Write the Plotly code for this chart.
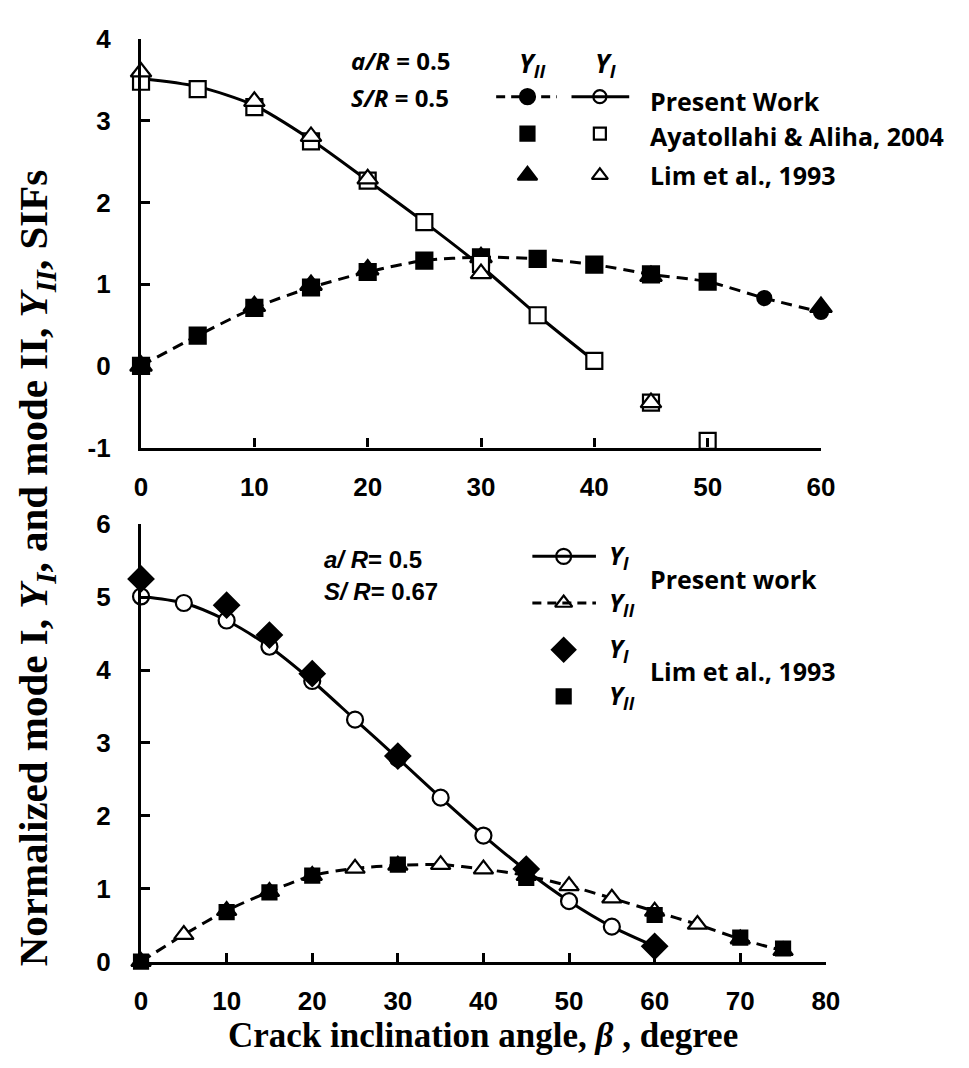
import plotly.graph_objects as go

# ---------------- data: top panel (a/R = 0.5, S/R = 0.5) ----------------
top_pw_yi_x = [0, 5, 10, 15, 20, 25, 30, 35, 40]
top_pw_yi = [3.52, 3.42, 3.19, 2.77, 2.27, 1.76, 1.22, 0.62, 0.06]
top_pw_yii_x = [0, 5, 10, 15, 20, 25, 30, 35, 40, 45, 50, 55, 60]
top_pw_yii = [0.0, 0.37, 0.71, 0.96, 1.15, 1.29, 1.33, 1.31, 1.24, 1.12, 1.03, 0.83, 0.66]
top_aa_x = [0, 5, 10, 15, 20, 25, 30, 35, 40, 45, 50]
top_aa_yi = [3.48, 3.39, 3.17, 2.75, 2.27, 1.76, 1.25, 0.62, 0.06, -0.45, -0.92]
top_aa_yii = [0.0, 0.37, 0.71, 0.96, 1.15, 1.29, 1.33, 1.31, 1.24, 1.12, 1.03]
top_lim_yi_x = [0, 10, 15, 20, 30, 45]
top_lim_yi = [3.60, 3.24, 2.81, 2.29, 1.13, -0.45]
top_lim_yii_x = [0, 10, 15, 20, 30, 45, 60]
top_lim_yii = [0.0, 0.73, 0.99, 1.18, 1.33, 1.10, 0.72]

# ---------------- data: bottom panel (a/R = 0.5, S/R = 0.67) ----------------
bot_pw_yi_x = [0, 5, 10, 15, 20, 25, 30, 35, 40, 45, 50, 55, 60]
bot_pw_yi = [5.01, 4.92, 4.68, 4.32, 3.85, 3.32, 2.79, 2.25, 1.73, 1.25, 0.83, 0.48, 0.21]
bot_pw_yii_x = [0, 5, 10, 15, 20, 25, 30, 35, 40, 45, 50, 55, 60, 65, 70, 75]
bot_pw_yii = [0.0, 0.37, 0.70, 0.96, 1.18, 1.28, 1.32, 1.33, 1.27, 1.18, 1.04, 0.87, 0.69, 0.51, 0.31, 0.15]
bot_lim_yi_x = [0, 10, 15, 20, 30, 45, 60]
bot_lim_yi = [5.25, 4.89, 4.48, 3.95, 2.82, 1.27, 0.21]
bot_lim_yii_x = [0, 10, 15, 20, 30, 45, 60, 70, 75]
bot_lim_yii = [0.0, 0.68, 0.95, 1.18, 1.33, 1.15, 0.64, 0.33, 0.18]

top_xticks = [0, 10, 20, 30, 40, 50, 60]
top_yticks = [-1, 0, 1, 2, 3, 4]
top_yticktext = ["-1", "0", "1", "2", "3", "4"]
bot_xticks = [0, 10, 20, 30, 40, 50, 60, 70, 80]
bot_yticks = [0, 1, 2, 3, 4, 5, 6]

# ---------------- layout constants ----------------
W, H = 969, 1068
BLK = "black"
LW = 3
DASH = "11px,7px"
SANS = "Liberation Sans, Arial"
LEG = "Open Sans, Noto Sans, sans-serif"
SERIF = "Liberation Serif, Times New Roman, serif"


def px(x):
    return x / W


def py(y):
    return 1 - y / H


fig = go.Figure()


def line(x, y, xa, ya, dash=None, sym="circle", size=10, fill="white"):
    fig.add_trace(go.Scatter(
        x=x, y=y, xaxis=xa, yaxis=ya, mode="lines+markers",
        line=dict(color=BLK, width=LW, shape="spline", smoothing=0.8, dash=dash or "solid"),
        marker=dict(symbol=sym, size=size, color=fill, line=dict(color=BLK, width=2.2)),
        cliponaxis=False, showlegend=False, hoverinfo="skip"))


def pts(x, y, xa, ya, sym, size, fill):
    fig.add_trace(go.Scatter(
        x=x, y=y, xaxis=xa, yaxis=ya, mode="markers",
        marker=dict(symbol=sym, size=size, color=fill, line=dict(color=BLK, width=2.2)),
        cliponaxis=False, showlegend=False, hoverinfo="skip"))


# top panel
line(top_pw_yii_x, top_pw_yii, "x", "y", dash=DASH, sym="circle", size=14, fill=BLK)
line(top_pw_yi_x, top_pw_yi, "x", "y", sym="circle", size=9, fill="white")
pts(top_lim_yii_x, top_lim_yii, "x", "y", "triangle-up", 19, BLK)
pts(top_aa_x, top_aa_yii, "x", "y", "square", 16, BLK)
pts(top_aa_x, top_aa_yi, "x", "y", "square", 16, "white")
pts(top_lim_yi_x, top_lim_yi, "x", "y", "triangle-up", 18, "white")

# bottom panel
line(bot_pw_yii_x, bot_pw_yii, "x2", "y2", dash=DASH, sym="triangle-up", size=17, fill="white")
line(bot_pw_yi_x, bot_pw_yi, "x2", "y2", sym="circle", size=16, fill="white")
pts(bot_lim_yii_x, bot_lim_yii, "x2", "y2", "square", 14, BLK)
pts(bot_lim_yi_x, bot_lim_yi, "x2", "y2", "diamond", 19, BLK)

# ---------------- legend keys (overlay pixel axis) ----------------
shapes = []


def key_line(x0, x1, y, dash=None):
    shapes.append(dict(type="line", xref="x3", yref="y3", x0=x0, x1=x1, y0=y, y1=y,
                       line=dict(color=BLK, width=LW, dash=dash or "solid")))


def key_pt(x, y, sym, size, fill):
    fig.add_trace(go.Scatter(x=[x], y=[y], xaxis="x3", yaxis="y3", mode="markers",
                             marker=dict(symbol=sym, size=size, color=fill, line=dict(color=BLK, width=2.2)),
                             cliponaxis=False, showlegend=False, hoverinfo="skip"))


# top legend
key_line(500, 562, 84, "9px,6px")
key_pt(532, 84, "circle", 15, BLK)
key_line(577, 636, 84)
key_pt(606, 84, "circle", 13, "white")
key_pt(532, 122, "square", 14, BLK)
key_pt(606, 122, "square", 12, "white")
key_pt(532, 165, "triangle-up", 17, BLK)
key_pt(606, 165, "triangle-up", 14, "white")

# bottom legend
key_line(537, 602, 557)
key_pt(569, 557, "circle", 15, "white")
key_line(537, 602, 605, "9px,6px")
key_pt(569, 605, "triangle-up", 15, "white")
key_pt(569, 653, "diamond", 18, BLK)
key_pt(569, 701, "square", 14, BLK)

# ---------------- annotations ----------------
ann = []


def txt(x, y, s, size, family, xanchor="left", angle=0):
    ann.append(dict(x=px(x), y=py(y), xref="paper", yref="paper", text=s, showarrow=False,
                    xanchor=xanchor, yanchor="middle", textangle=angle,
                    font=dict(family=family, size=size, color=BLK, weight="bold")))


NB = "\u00a0"
txt(350, 47, "<i>a/R</i>" + NB + "= 0.5", 24, LEG)
txt(350, 85, "<i>S/R</i>" + NB + "= 0.5", 24, LEG)
txt(521, 50, "<i>Y</i><sub><i>II</i></sub>", 26, LEG)
txt(599, 50, "<i>Y</i><sub><i>I</i></sub>", 26, LEG)
txt(655, 88, "Present Work", 25, LEG)
txt(655, 125, "Ayatollahi &amp; Aliha, 2004", 25, LEG)
txt(655, 165, "Lim et al., 1993", 25, LEG)

txt(322, 560, "<i>a/ R</i>= 0.5", 24, "Liberation Sans Narrow, Arial Narrow, Arial")
txt(322, 593, "<i>S/ R</i>= 0.67", 24, "Liberation Sans Narrow, Arial Narrow, Arial")
txt(613, 557, "<i>Y</i><sub><i>I</i></sub>", 25, LEG)
txt(613, 605, "<i>Y</i><sub><i>II</i></sub>", 25, LEG)
txt(613, 653, "<i>Y</i><sub><i>I</i></sub>", 25, LEG)
txt(613, 701, "<i>Y</i><sub><i>II</i></sub>", 25, LEG)
txt(655, 580, "Present work", 25, LEG)
txt(655, 675, "Lim et al., 1993", 25, LEG)

txt(487, 1050, "Crack inclination angle, <i>β</i> , degree", 35, SERIF, xanchor="center")
txt(30, 569, "Normalized mode I, <i>Y<sub>I</sub></i>, and mode II, <i>Y<sub>II</sub></i>, SIFs", 41, SERIF,
    xanchor="center", angle=-90)

# ---------------- axes ----------------
axc = dict(showline=True, linecolor=BLK, linewidth=3.2, ticks="inside", ticklen=9, tickwidth=3,
           tickcolor=BLK, showgrid=False, zeroline=False, mirror=False,
           tickfont=dict(family=SANS, size=26, color=BLK, weight="bold"), fixedrange=True)

fig.update_layout(
    width=W, height=H, margin=dict(l=0, r=0, t=0, b=0),
    paper_bgcolor="white", plot_bgcolor="rgba(0,0,0,0)",
    showlegend=False, shapes=shapes, annotations=ann,
    xaxis=dict(axc, domain=[px(137), px(832)], range=[0, 60], tickvals=top_xticks, anchor="y",
               ticklabelstandoff=14),
    yaxis=dict(axc, domain=[py(445), py(25)], range=[-1, 4], tickvals=top_yticks,
               ticktext=top_yticktext, anchor="x", ticklabelstandoff=22),
    xaxis2=dict(axc, domain=[px(137), px(837)], range=[0, 80], tickvals=bot_xticks, anchor="y2",
                ticklabelstandoff=14),
    yaxis2=dict(axc, domain=[py(974), py(524)], range=[0, 6], tickvals=bot_yticks, anchor="x2",
                ticklabelstandoff=22),
    xaxis3=dict(domain=[0, 1], range=[0, W], visible=False, anchor="y3", fixedrange=True),
    yaxis3=dict(domain=[0, 1], range=[H, 0], visible=False, anchor="x3", fixedrange=True),
)

fig.write_html("out.html")
